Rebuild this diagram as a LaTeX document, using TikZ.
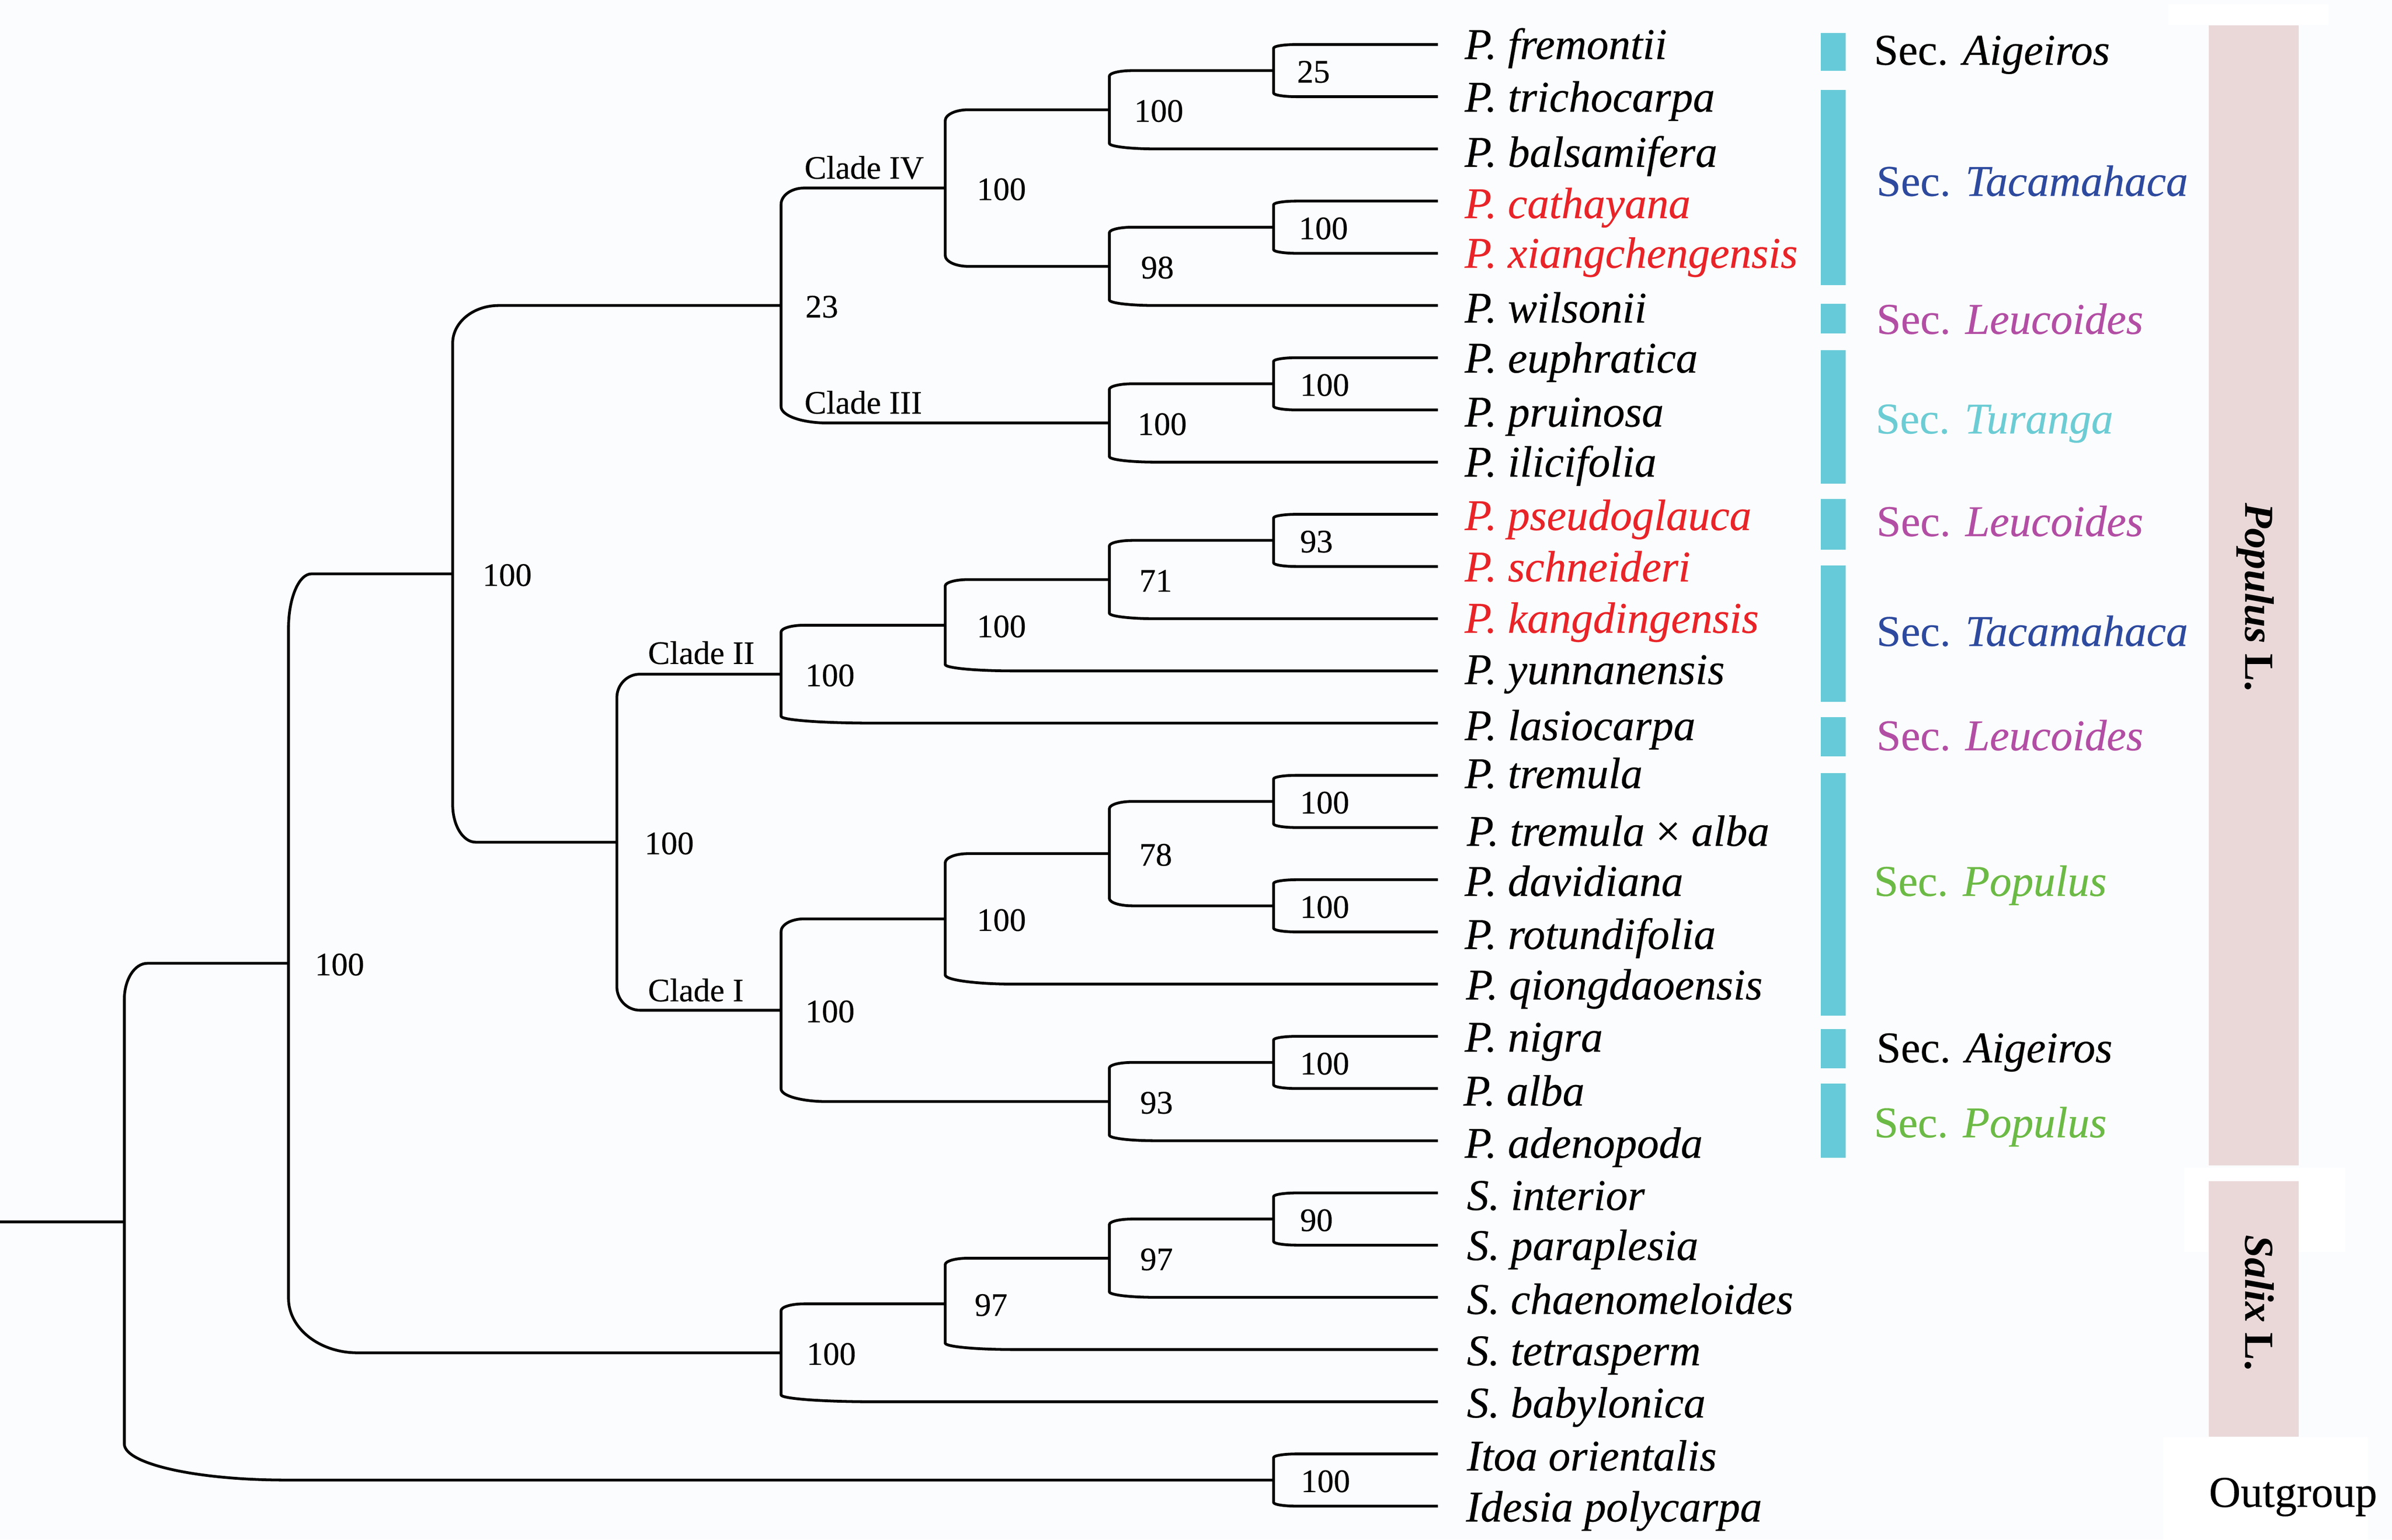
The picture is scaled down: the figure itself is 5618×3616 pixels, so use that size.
\documentclass[tikz,border=0pt]{standalone}
\usepackage{fontspec}
\setmainfont{Liberation Serif}[FakeBold=0.3]
\newfontfamily\genfont{Liberation Serif}
\usetikzlibrary{calc}
\definecolor{bgc}{RGB}{251,252,253}
\definecolor{redsp}{RGB}{232,36,40}
\definecolor{tacc}{RGB}{45,74,158}
\definecolor{leuc}{RGB}{178,78,164}
\definecolor{turc}{RGB}{108,204,212}
\definecolor{popc}{RGB}{108,186,70}
\definecolor{barc}{RGB}{103,202,216}
\definecolor{pinkc}{RGB}{234,216,216}
\newcommand\fbig{\fontsize{103}{112}\selectfont}
\newcommand\fmid{\fontsize{77}{84}\selectfont}
\newcommand\fgen{\fontsize{97}{105}\selectfont}
\tikzset{
  branch/.style={to path={let \p1=(\tikztostart), \p2=(\tikztotarget) in
     -- (\x1,{\y2+0.14*(\y1-\y2)})
     .. controls (\x1,{\y2+0.0627*(\y1-\y2)}) and ({\x1+0.0627*(\x2-\x1)},\y2) ..
     ({\x1+0.14*(\x2-\x1)},\y2) -- (\x2,\y2)}},
  treeline/.style={line width=6.5pt, black, line join=round},
  spname/.style={anchor=base west, inner sep=0pt, font=\fbig\itshape},
  seclab/.style={anchor=base west, inner sep=0pt, font=\fbig},
  bslab/.style={anchor=west, inner sep=0pt, font=\fmid},
  cladelab/.style={anchor=base west, inner sep=0pt, font=\fmid},
  genus/.style={anchor=base, inner sep=0pt, rotate=-90, font=\fgen\genfont\bfseries},
  secbar/.style={fill=barc},
  genbar/.style={fill=pinkc},
  whitebox/.style={fill=white},
}
\begin{document}
\begin{tikzpicture}[x=1pt,y=-1pt]
\fill[bgc] (0,0) rectangle (5618,3616);
\useasboundingbox (0,0) rectangle (5618,3616);

% white boxes
\fill[whitebox] (5092,10) rectangle (5468,58);
\fill[whitebox] (5130,2743) rectangle (5508,2940);
\fill[whitebox] (5081,3375) rectangle (5561,3616);

% genus bars
\fill[genbar] (5188,60) rectangle (5399,2737);
\fill[genbar] (5188,2774) rectangle (5399,3374);

% section bars
\fill[secbar] (4276,78) rectangle (4335,166);
\fill[secbar] (4276,211) rectangle (4335,670);
\fill[secbar] (4276,714) rectangle (4335,783);
\fill[secbar] (4276,823) rectangle (4335,1136);
\fill[secbar] (4276,1172) rectangle (4335,1291);
\fill[secbar] (4276,1328) rectangle (4335,1648);
\fill[secbar] (4276,1684) rectangle (4335,1776);
\fill[secbar] (4276,1816) rectangle (4335,2385);
\fill[secbar] (4276,2417) rectangle (4335,2509);
\fill[secbar] (4276,2545) rectangle (4335,2719);

% leaf ends
\foreach \i in {0,...,28} \coordinate (l\i) at (3377,{104.5+122.6*\i});

% internal nodes
\coordinate (n25) at (2991.2,165.8);
\coordinate (E) at (2605.6,257.75);
\coordinate (nCX) at (2991.2,533.6);
\coordinate (F) at (2605.6,625.55);
\coordinate (cIV) at (2220,441.65);
\coordinate (G) at (2991.2,901.4);
\coordinate (cIII) at (2605.6,993.35);
\coordinate (C) at (1834.4,717.5);
\coordinate (J) at (2991.2,1269.2);
\coordinate (I) at (2605.6,1361.15);
\coordinate (H) at (2220,1468.4);
\coordinate (cII) at (1834.4,1583.35);
\coordinate (N) at (2991.2,1882.2);
\coordinate (O) at (2991.2,2127.4);
\coordinate (M) at (2605.6,2004.8);
\coordinate (K) at (2220,2158.05);
\coordinate (P) at (2991.2,2495.2);
\coordinate (L) at (2605.6,2587.15);
\coordinate (cI) at (1834.4,2372.6);
\coordinate (D) at (1448.8,1977.98);
\coordinate (B) at (1063.2,1347.74);
\coordinate (S) at (2991.2,2863);
\coordinate (R) at (2605.6,2954.95);
\coordinate (Q) at (2220,3062.2);
\coordinate (Sx) at (1834.4,3177.15);
\coordinate (A) at (677.6,2262.45);
\coordinate (Out) at (2991.2,3476);
\coordinate (root) at (292,2869.2);
\coordinate (stem) at (0,2869.2);

% tree
\draw[treeline] (stem) -- (root);
\draw[treeline, branch]
  (root) to (A) (root) to (Out)
  (A) to (B) (A) to (Sx)
  (B) to (C) (B) to (D)
  (C) to (cIV) (C) to (cIII)
  (cIV) to (E) (cIV) to (F)
  (E) to (n25) (E) to (l2)
  (n25) to (l0) (n25) to (l1)
  (F) to (nCX) (F) to (l5)
  (nCX) to (l3) (nCX) to (l4)
  (cIII) to (G) (cIII) to (l8)
  (G) to (l6) (G) to (l7)
  (D) to (cII) (D) to (cI)
  (cII) to (H) (cII) to (l13)
  (H) to (I) (H) to (l12)
  (I) to (J) (I) to (l11)
  (J) to (l9) (J) to (l10)
  (cI) to (K) (cI) to (L)
  (K) to (M) (K) to (l18)
  (M) to (N) (M) to (O)
  (N) to (l14) (N) to (l15)
  (O) to (l16) (O) to (l17)
  (L) to (P) (L) to (l21)
  (P) to (l19) (P) to (l20)
  (Sx) to (Q) (Sx) to (l26)
  (Q) to (R) (Q) to (l25)
  (R) to (S) (R) to (l24)
  (S) to (l22) (S) to (l23)
  (Out) to (l27) (Out) to (l28);

% bootstrap values
\node[bslab] (bA) at ($(A)+(62,3)$) {100};
\node[bslab] (bB) at ($(B)+(70,3)$) {100};
\node[bslab] (bC) at ($(C)+(57,3)$) {23};
\node[bslab] (bD) at ($(D)+(65,3)$) {100};
\node[bslab] (bcIV) at ($(cIV)+(74,3)$) {100};
\node[bslab] (bcIII) at ($(cIII)+(66,3)$) {100};
\node[bslab] (bcII) at ($(cII)+(57,3)$) {100};
\node[bslab] (bcI) at ($(cI)+(57,3)$) {100};
\node[bslab] (bSx) at ($(Sx)+(60,3)$) {100};
\node[bslab] (bE) at ($(E)+(58,3)$) {100};
\node[bslab] (bF) at ($(F)+(74,3)$) {98};
\node[bslab] (bH) at ($(H)+(74,3)$) {100};
\node[bslab] (bI) at ($(I)+(70,3)$) {71};
\node[bslab] (bK) at ($(K)+(74,3)$) {100};
\node[bslab] (bM) at ($(M)+(70,3)$) {78};
\node[bslab] (bL) at ($(L)+(72,3)$) {93};
\node[bslab] (bQ) at ($(Q)+(69,3)$) {97};
\node[bslab] (bR) at ($(R)+(72,3)$) {97};
\node[bslab] (bn25) at ($(n25)+(55,3)$) {25};
\node[bslab] (bnCX) at ($(nCX)+(59,3)$) {100};
\node[bslab] (bG) at ($(G)+(62,3)$) {100};
\node[bslab] (bJ) at ($(J)+(62,3)$) {93};
\node[bslab] (bN) at ($(N)+(62,3)$) {100};
\node[bslab] (bO) at ($(O)+(62,3)$) {100};
\node[bslab] (bP) at ($(P)+(62,3)$) {100};
\node[bslab] (bS) at ($(S)+(62,3)$) {90};
\node[bslab] (bOut) at ($(Out)+(64,3)$) {100};

% clade labels
\node[cladelab] (kIV) at ($(C |- cIV)+(55,-22)$) {Clade IV};
\node[cladelab] (kIII) at ($(C |- cIII)+(55,-22)$) {Clade III};
\node[cladelab] (kII) at ($(D |- cII)+(73,-24)$) {Clade II};
\node[cladelab] (kI) at ($(D |- cI)+(73,-21)$) {Clade I};

% species names
\node[spname] (t0) at ($(l0)+(63,34)$) {P. fremontii};
\node[spname] (t1) at ($(l1)+(63,35)$) {P. trichocarpa};
\node[spname] (t2) at ($(l2)+(63,42)$) {P. balsamifera};
\node[spname, text=redsp] (t3) at ($(l3)+(63,40)$) {P. cathayana};
\node[spname, text=redsp] (t4) at ($(l4)+(63,34)$) {P. xiangchengensis};
\node[spname] (t5) at ($(l5)+(63,40)$) {P. wilsonii};
\node[spname] (t6) at ($(l6)+(63,35)$) {P. euphratica};
\node[spname] (t7) at ($(l7)+(63,39)$) {P. pruinosa};
\node[spname] (t8) at ($(l8)+(63,34)$) {P. ilicifolia};
\node[spname, text=redsp] (t9) at ($(l9)+(63,37)$) {P. pseudoglauca};
\node[spname, text=redsp] (t10) at ($(l10)+(63,35)$) {P. schneideri};
\node[spname, text=redsp] (t11) at ($(l11)+(63,33)$) {P. kangdingensis};
\node[spname] (t12) at ($(l12)+(63,31)$) {P. yunnanensis};
\node[spname] (t13) at ($(l13)+(63,40)$) {P. lasiocarpa};
\node[spname] (t14) at ($(l14)+(63,30)$) {P. tremula};
\node[spname] (t15) at ($(l15)+(68,43)$) {P. tremula {\upshape×} alba};
\node[spname] (t16) at ($(l16)+(63,38)$) {P. davidiana};
\node[spname] (t17) at ($(l17)+(63,40)$) {P. rotundifolia};
\node[spname] (t18) at ($(l18)+(66,36)$) {P. qiongdaoensis};
\node[spname] (t19) at ($(l19)+(63,36)$) {P. nigra};
\node[spname] (t20) at ($(l20)+(60,40)$) {P. alba};
\node[spname] (t21) at ($(l21)+(63,40)$) {P. adenopoda};
\node[spname] (t22) at ($(l22)+(68,40)$) {S. interior};
\node[spname] (t23) at ($(l23)+(68,35)$) {S. paraplesia};
\node[spname] (t24) at ($(l24)+(68,39)$) {S. chaenomeloides};
\node[spname] (t25) at ($(l25)+(68,37)$) {S. tetrasperm};
\node[spname] (t26) at ($(l26)+(68,37)$) {S. babylonica};
\node[spname] (t27) at ($(l27)+(68,39)$) {Itoa orientalis};
\node[spname] (t28) at ($(l28)+(66,36)$) {Idesia polycarpa};

% section labels
\node[seclab] (s1) at (4401,152) {Sec. \textit{Aigeiros}};
\node[seclab, text=tacc] (s2) at (4407,460) {Sec. \textit{Tacamahaca}};
\node[seclab, text=leuc] (s3) at (4407,784) {Sec. \textit{Leucoides}};
\node[seclab, text=turc] (s4) at (4405,1018) {Sec. \textit{Turanga}};
\node[seclab, text=leuc] (s5) at (4407,1259) {Sec. \textit{Leucoides}};
\node[seclab, text=tacc] (s6) at (4407,1517) {Sec. \textit{Tacamahaca}};
\node[seclab, text=leuc] (s7) at (4407,1762) {Sec. \textit{Leucoides}};
\node[seclab, text=popc] (s8) at (4401,2104) {Sec. \textit{Populus}};
\node[seclab] (s9) at (4407,2495) {Sec. \textit{Aigeiros}};
\node[seclab, text=popc] (s10) at (4401,2671) {Sec. \textit{Populus}};

% genus labels
\node[genus] (gP) at (5274,1403) {\textit{Populus} L.};
\node[genus] (gS) at (5274,3060) {\textit{Salix} L.};
\node[seclab] (gO) at (5188,3539) {Outgroup};
\end{tikzpicture}
\end{document}
